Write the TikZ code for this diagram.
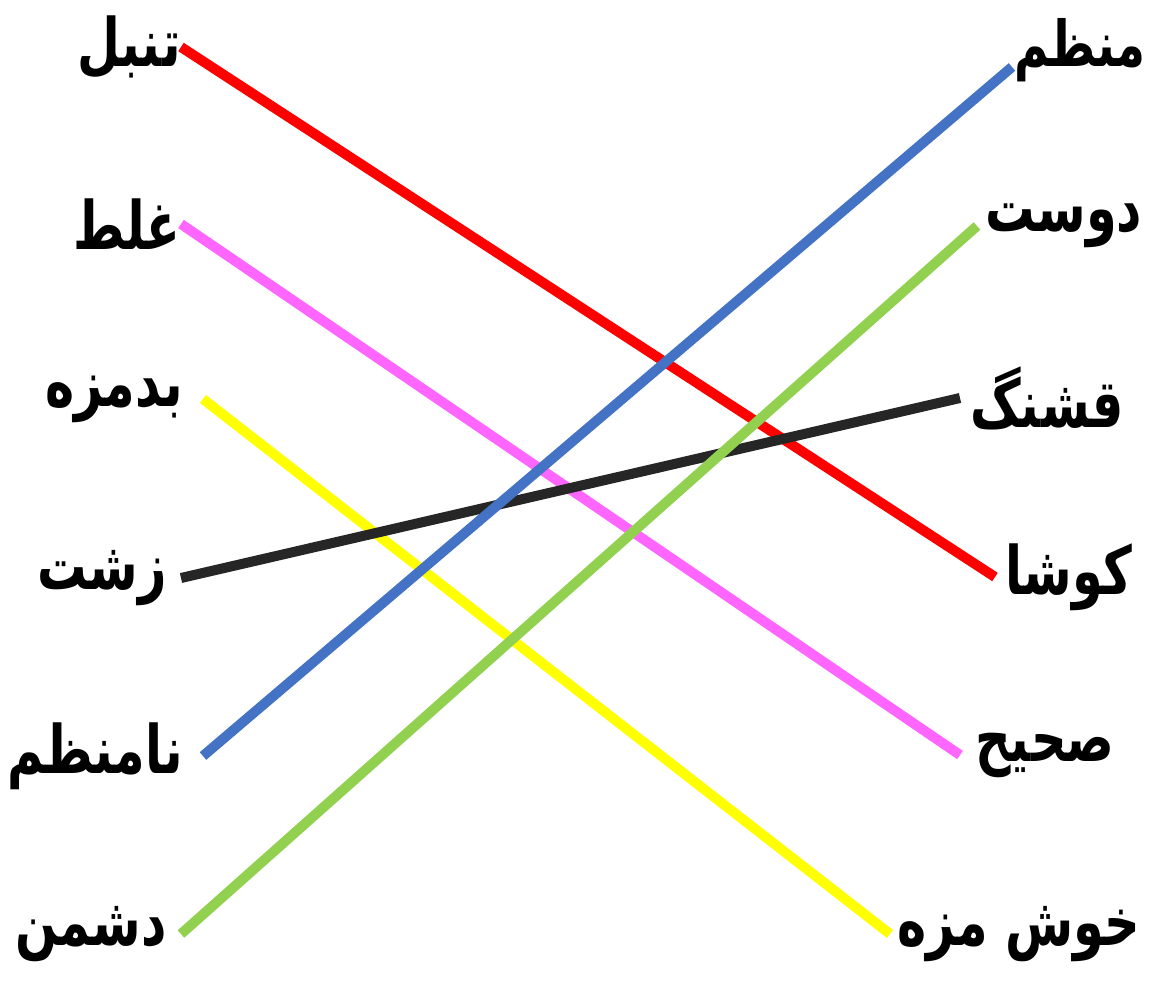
\documentclass[tikz,border=0pt]{standalone}
\usepackage{fontspec}
\usepackage{xcolor}
\usetikzlibrary{positioning}
\TeXXeTstate=1
\newfontfamily\farsi[Script=Arabic, FakeStretch=0.74]{DejaVu Sans}
\newcommand{\fa}[1]{\beginR #1\endR}
\definecolor{cred}{HTML}{FF0000}
\definecolor{cpink}{HTML}{FF66FF}
\definecolor{cyellow}{HTML}{FFFF00}
\definecolor{cblack}{HTML}{262626}
\definecolor{cblue}{HTML}{4472C4}
\definecolor{cgreen}{HTML}{92D050}

\begin{document}
\begin{tikzpicture}[x=0.02cm, y=-0.02cm,
  every node/.style={font=\farsi\bfseries\fontsize{38}{42}\selectfont, inner ysep=0pt},
  wl/.style={anchor=east, inner xsep=#1}, wl/.default=0cm,
  wr/.style={anchor=west, inner xsep=#1}, wr/.default=0.2cm,
  link/.style={line width=5.7pt}]
  \useasboundingbox (0,0) rectangle (1153,983);
  % left column
  \node[wl]        (tanbal)  at (181,47)  {\fa{تنبل}};
  \node[wl]        (ghalat)  at (181,224) {\fa{غلط}};
  \node[wl=0.4cm]  (badmaze) at (203,399) {\fa{بدمزه}};
  \node[wl=0.28cm] (zesht)   at (181,578) {\fa{زشت}};
  \node[wl=0.4cm]  (namonaz) at (203,756) {\fa{نامنظم}};
  \node[wl=0.28cm] (doshman) at (181,934) {\fa{دشمن}};
  % right column
  \node[wr=0.05cm, anchor=base west, font=\farsi\bfseries\fontsize{36}{42}\selectfont]
    (monaz) at (1012,67) {\fa{منظم}};
  \node[wr=0.16cm]            (doost)   at (977,226)  {\fa{دوست}};
  \node[wr]                   (ghashang) at (960,398) {\fa{قشنگ}};
  \node[wr]                   (kusha)   at (995,577)  {\fa{کوشا}};
  \node[wr=0.3cm]             (sahih)   at (960,755)  {\fa{صحیح}};
  \node[wr=0.14cm]            (khoshmaze) at (890,934) {\fa{خوش مزه}};
  % matches
  \draw[link, cred]    (tanbal.east)  -- (kusha.west);
  \draw[link, cpink]   (ghalat.east)  -- (sahih.west);
  \draw[link, cyellow] (badmaze.east) -- (khoshmaze.west);
  \draw[link, cblack]  (zesht.east)   -- (ghashang.west);
  \draw[link, cblue]   (namonaz.east) -- (monaz.base west);
  \draw[link, cgreen]  (doshman.east) -- (doost.west);
\end{tikzpicture}
\end{document}
